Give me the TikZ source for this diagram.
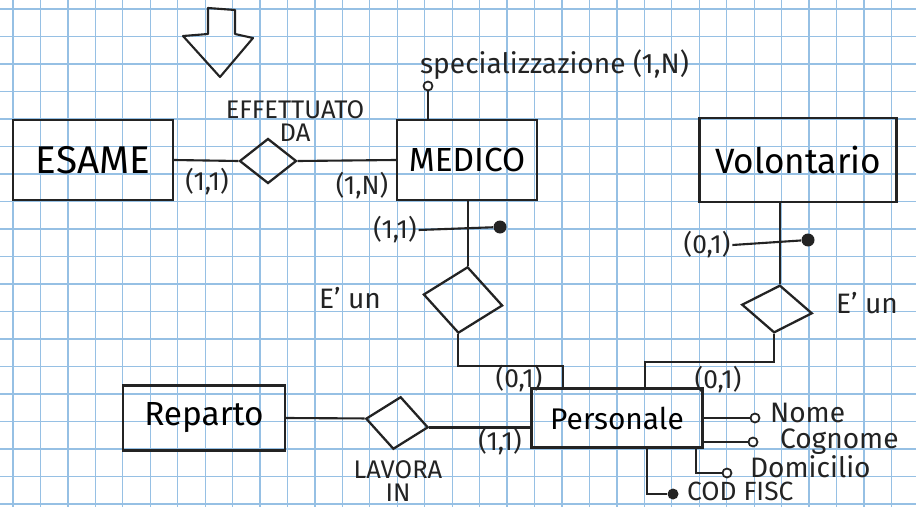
\documentclass[tikz,border=0pt]{standalone}
\usepackage{fontspec}
\setmainfont{Fira Sans}
\usetikzlibrary{shapes.geometric}
\definecolor{gridblue}{RGB}{150,192,228}
\definecolor{ink}{RGB}{35,35,35}
\newcommand{\entfont}{\fontsize{19}{21}\selectfont}
\newcommand{\relfont}{\fontsize{14.5}{13}\selectfont}
\newcommand{\attfont}{\fontsize{16}{18}\selectfont}
\newcommand{\cardfont}{\fontsize{15}{17}\selectfont}

\begin{document}
\begin{tikzpicture}[x=0.02cm,y=-0.02cm,
ent/.style={draw=ink,line width=1.3pt,inner sep=0pt,font=\entfont},
rel/.style={draw=ink,diamond,line width=1.3pt,inner sep=0pt},
lnk/.style={draw=ink,line width=1.2pt},
att/.style={circle,draw=ink,line width=1pt,inner sep=0pt,minimum size=0.18cm,fill=white},
idf/.style={circle,fill=ink,inner sep=0pt,minimum size=0.26cm},
lbl/.style={inner sep=1pt,text=ink},
gridline/.style={draw=gridblue,line width=0.7pt}]
% paper
\fill[white] (0,0) rectangle (916,507);
\useasboundingbox (0,0) rectangle (916,507);
\foreach \k in {0,...,32} \draw[gridline] ({13+27.45*\k},0) -- ({13+27.45*\k},507);
\foreach \k in {0,...,18} \draw[gridline] (0,{9+27.5*\k}) -- (916,{9+27.5*\k});
% arrow
\draw[lnk,line join=round] (208,8) -- (235,10) -- (235,34) -- (253,38) -- (220,77) -- (183,36) -- (208,34) -- cycle;
% entities
\node[ent,minimum width=3.2cm,minimum height=1.6cm,font=\fontsize{22}{24}\selectfont] (esame) at (93,160) {ESAME};
\node[ent,minimum width=2.8cm,minimum height=1.6cm] (medico) at (467,160) {MEDICO};
\node[ent,minimum width=3.94cm,minimum height=1.68cm,font=\fontsize{20}{22}\selectfont] (volontario) at (798,160) {Volontario};
\node[ent,minimum width=3.42cm,minimum height=1.18cm,font=\fontsize{17}{19}\selectfont] (personale) at (617,418) {Personale};
\node[ent,minimum width=3.24cm,minimum height=1.3cm] (reparto) at (204,418) {Reparto};
% relationships
\node[rel,minimum width=1.14cm,minimum height=0.9cm] (effettuato) at (268,161) {};
\node[rel,minimum width=1.6cm,minimum height=1.34cm,rotate=-8] (isaM) at (463,300) {};
\node[rel,minimum width=1.42cm,minimum height=0.96cm,rotate=-7] (isaV) at (777,309) {};
\node[rel,minimum width=1.26cm,minimum height=1.06cm,rotate=-8] (lavora) at (397,423) {};
\node[lbl,font=\relfont,align=center] (effLbl) at (295,121) {EFFETTUATO\\DA};
\node[lbl,font=\relfont,align=center] (lavLbl) at (398,481) {LAVORA\\IN};
\node[lbl,font=\attfont] (isaMLbl) at (350,298) {E' un};
\node[lbl,font=\attfont] (isaVLbl) at (867,303) {E' un};
% cardinalities
\node[lbl,font=\cardfont] (cEsame) at (207,182) {(1,1)};
\node[lbl,font=\cardfont] (cMedico) at (362,186) {(1,N)};
\node[lbl,font=\cardfont] (cPersM) at (519,379) {(0,1)};
\node[lbl,font=\cardfont] (cPersV) at (718,380) {(0,1)};
\node[lbl,font=\cardfont] (cPersR) at (500,442) {(1,1)};
\node[lbl,font=\cardfont] (cIdM) at (395,230) {(1,1)};
\node[lbl,font=\cardfont] (cIdV) at (707,245) {(0,1)};
\node[idf] (idM) at (500,227) {};
\node[idf] (idV) at (808,240) {};
% attributes
\node[att] (specC) at (428,86) {};
\node[lbl,font=\attfont,anchor=west] (specLbl) at (418,65) {specializzazione (1,N)};
\node[att] (nomeC) at (755,418) {};
\node[att] (cognC) at (753,442) {};
\node[att] (domC) at (727,473) {};
\node[idf,minimum size=0.22cm] (cfC) at (673,494) {};
\node[lbl,font=\attfont,anchor=west] (nomeLbl) at (768,413) {Nome};
\node[lbl,font=\attfont,anchor=west] (cognLbl) at (778,442) {Cognome};
\node[lbl,font=\attfont,anchor=west] (domLbl) at (748,467) {Domicilio};
\node[lbl,font=\fontsize{15}{17}\selectfont,anchor=west] (cfLbl) at (685,491) {COD FISC};
% links
\draw[lnk] (esame.east) -- (effettuato.west);
\draw[lnk] (effettuato.east) -- (medico.west);
\draw[lnk] (isaM.north) -- (isaM.north |- medico.south);
\draw[lnk] (isaV.north) -- (isaV.north |- volontario.south);
\coordinate (jM) at (563,366);
\coordinate (jV) at (645,362);
\draw[lnk] (isaM.south) |- (jM) -- (jM |- personale.north);
\draw[lnk] (isaV.south) |- (jV) -- (jV |- personale.north);
\draw[lnk] (reparto.east) -- (lavora.west);
\draw[lnk,line width=1.8pt] (lavora.east) -- (personale.west |- lavora.east);
\draw[lnk] (cIdM.east) -- (idM);
\draw[lnk] (cIdV.east) -- (idV);
\draw[lnk] (specC.south) -- (specC |- medico.north);
\draw[lnk] (nomeC.west) -- (nomeC -| personale.east);
\draw[lnk] (cognC.west) -- (cognC -| personale.east);
\draw[lnk] (domC.west) -| ([xshift=-0.16cm]personale.south east);
\draw[lnk] (cfC.west) -| ([xshift=0.6cm]personale.south);
\end{tikzpicture}
\end{document}
